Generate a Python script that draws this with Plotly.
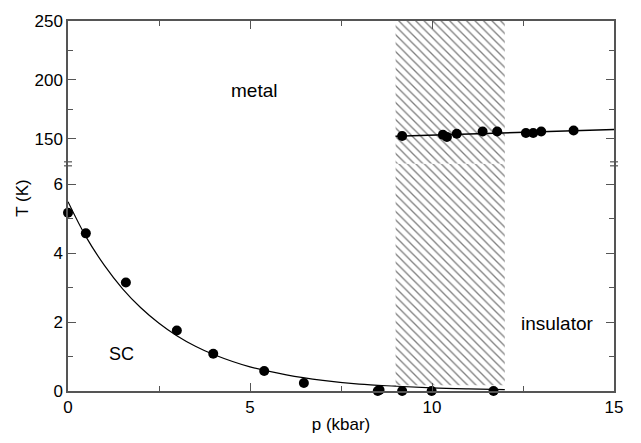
import plotly.graph_objects as go

# ---- data ----
sc_p = [0.0, 0.49, 1.59, 2.99, 3.99, 5.39, 6.48, 8.51, 8.56, 9.18, 9.99, 11.69]
sc_T = [5.18, 4.58, 3.15, 1.76, 1.08, 0.58, 0.23, 0.0, 0.03, 0.0, 0.0, 0.0]

fit_p = [0, 0.5, 1, 1.5, 2, 2.5, 3, 3.5, 4, 5, 6, 7, 8, 9, 10, 11, 12]
fit_T = [5.5, 4.47, 3.65, 2.97, 2.42, 1.97, 1.6, 1.3, 1.06, 0.7, 0.47, 0.31, 0.2, 0.14, 0.09, 0.06, 0.04]

mi_p = [9.18, 10.3, 10.41, 10.68, 11.39, 11.79, 12.58, 12.78, 13.0, 13.89]
mi_T = [152.2, 153.3, 151.4, 154.1, 156.0, 156.0, 154.7, 154.7, 156.0, 156.9]

line_p = [9.0, 15.0]
line_T = [151.9, 157.7]

hatch_p = [9.0, 12.0]
hatch_T_low = [0.17, 6.6]
hatch_T_high = [128.5, 250]

x_range = [0, 15]
low_range = [0, 6.6]
high_range = [128.5, 250]
split = 0.614

FONT = "Liberation Sans, Arial, Helvetica, sans-serif"

fig = go.Figure()

pattern = dict(shape="\\", fgcolor="black", bgcolor="white", size=6, solidity=0.22)

fig.add_trace(go.Scatter(
    x=[hatch_p[0], hatch_p[1], hatch_p[1], hatch_p[0], hatch_p[0]],
    y=[hatch_T_low[0], hatch_T_low[0], hatch_T_low[1], hatch_T_low[1], hatch_T_low[0]],
    fill="toself", fillcolor="white", fillpattern=pattern, mode="lines",
    line=dict(width=0), hoverinfo="skip", xaxis="x", yaxis="y"))
fig.add_trace(go.Scatter(
    x=[hatch_p[0], hatch_p[1], hatch_p[1], hatch_p[0], hatch_p[0]],
    y=[hatch_T_high[0], hatch_T_high[0], hatch_T_high[1], hatch_T_high[1], hatch_T_high[0]],
    fill="toself", fillcolor="white", fillpattern=pattern, mode="lines",
    line=dict(width=0), hoverinfo="skip", xaxis="x2", yaxis="y2"))

fig.add_trace(go.Scatter(x=fit_p, y=fit_T, mode="lines", line=dict(color="black", width=1.2, shape="spline"),
                         xaxis="x", yaxis="y", cliponaxis=False))
fig.add_trace(go.Scatter(x=sc_p, y=sc_T, mode="markers", marker=dict(color="black", size=10),
                         xaxis="x", yaxis="y", cliponaxis=False))
fig.add_trace(go.Scatter(x=line_p, y=line_T, mode="lines", line=dict(color="black", width=1.5),
                         xaxis="x2", yaxis="y2"))
fig.add_trace(go.Scatter(x=mi_p, y=mi_T, mode="markers", marker=dict(color="black", size=10),
                         xaxis="x2", yaxis="y2", cliponaxis=False))

axcol = "#555"
common_tick = dict(ticks="inside", ticklen=8, tickcolor=axcol, tickwidth=1,
                   showline=True, linecolor=axcol, linewidth=1.5, showgrid=False, zeroline=False,
                   tickfont=dict(family=FONT, size=17, color="black"))

fig.update_layout(
    width=641, height=443,
    margin=dict(l=68, r=27, t=14, b=48),
    paper_bgcolor="white", plot_bgcolor="white",
    showlegend=False,
    font=dict(family=FONT, size=17, color="black"),
    xaxis=dict(range=x_range, domain=[0, 1], anchor="y", tickvals=[0, 5, 10, 15],
               minor=dict(tickvals=[2.5, 7.5, 12.5], ticks="inside", ticklen=5, tickcolor=axcol),
               title=dict(text="p (kbar)", font=dict(family=FONT, size=17), standoff=2),
               mirror=False, **common_tick),
    xaxis2=dict(range=x_range, domain=[0, 1], anchor="y2", side="top", matches="x",
                tickvals=[0, 5, 10, 15], showticklabels=False,
                minor=dict(tickvals=[2.5, 7.5, 12.5], ticks="inside", ticklen=5, tickcolor=axcol),
                **common_tick),
    yaxis=dict(range=low_range, domain=[0, split], anchor="x", tickvals=[0, 2, 4, 6],
               minor=dict(tickvals=[1, 3, 5], ticks="inside", ticklen=5, tickcolor=axcol),
               mirror="ticks", **common_tick),
    yaxis2=dict(range=high_range, domain=[split, 1], anchor="x2", tickvals=[150, 200, 250],
                minor=dict(tickvals=[175, 225], ticks="inside", ticklen=5, tickcolor=axcol),
                mirror="ticks", **common_tick),
)

# axis break marks
for xa in [0, 1]:
    for dy in [-2, 2]:
        fig.add_shape(type="line", xref="paper", yref="paper", xsizemode="pixel", ysizemode="pixel",
                      xanchor=xa, yanchor=split, x0=-4, x1=4, y0=dy, y1=dy,
                      line=dict(color=axcol, width=1.2))

fig.add_annotation(text="metal", x=5.1, y=190.5, xref="x2", yref="y2", showarrow=False,
                   font=dict(family=FONT, size=19))
fig.add_annotation(text="SC", x=1.48, y=1.07, xref="x", yref="y", showarrow=False,
                   font=dict(family=FONT, size=18))
fig.add_annotation(text="insulator", x=13.44, y=1.97, xref="x", yref="y", showarrow=False,
                   font=dict(family=FONT, size=19))
fig.add_annotation(text="T (K)", xref="paper", yref="paper", x=-0.084, y=0.52, textangle=-90,
                   showarrow=False, xanchor="center", yanchor="middle", font=dict(family=FONT, size=17))

fig.write_html("out.html")
